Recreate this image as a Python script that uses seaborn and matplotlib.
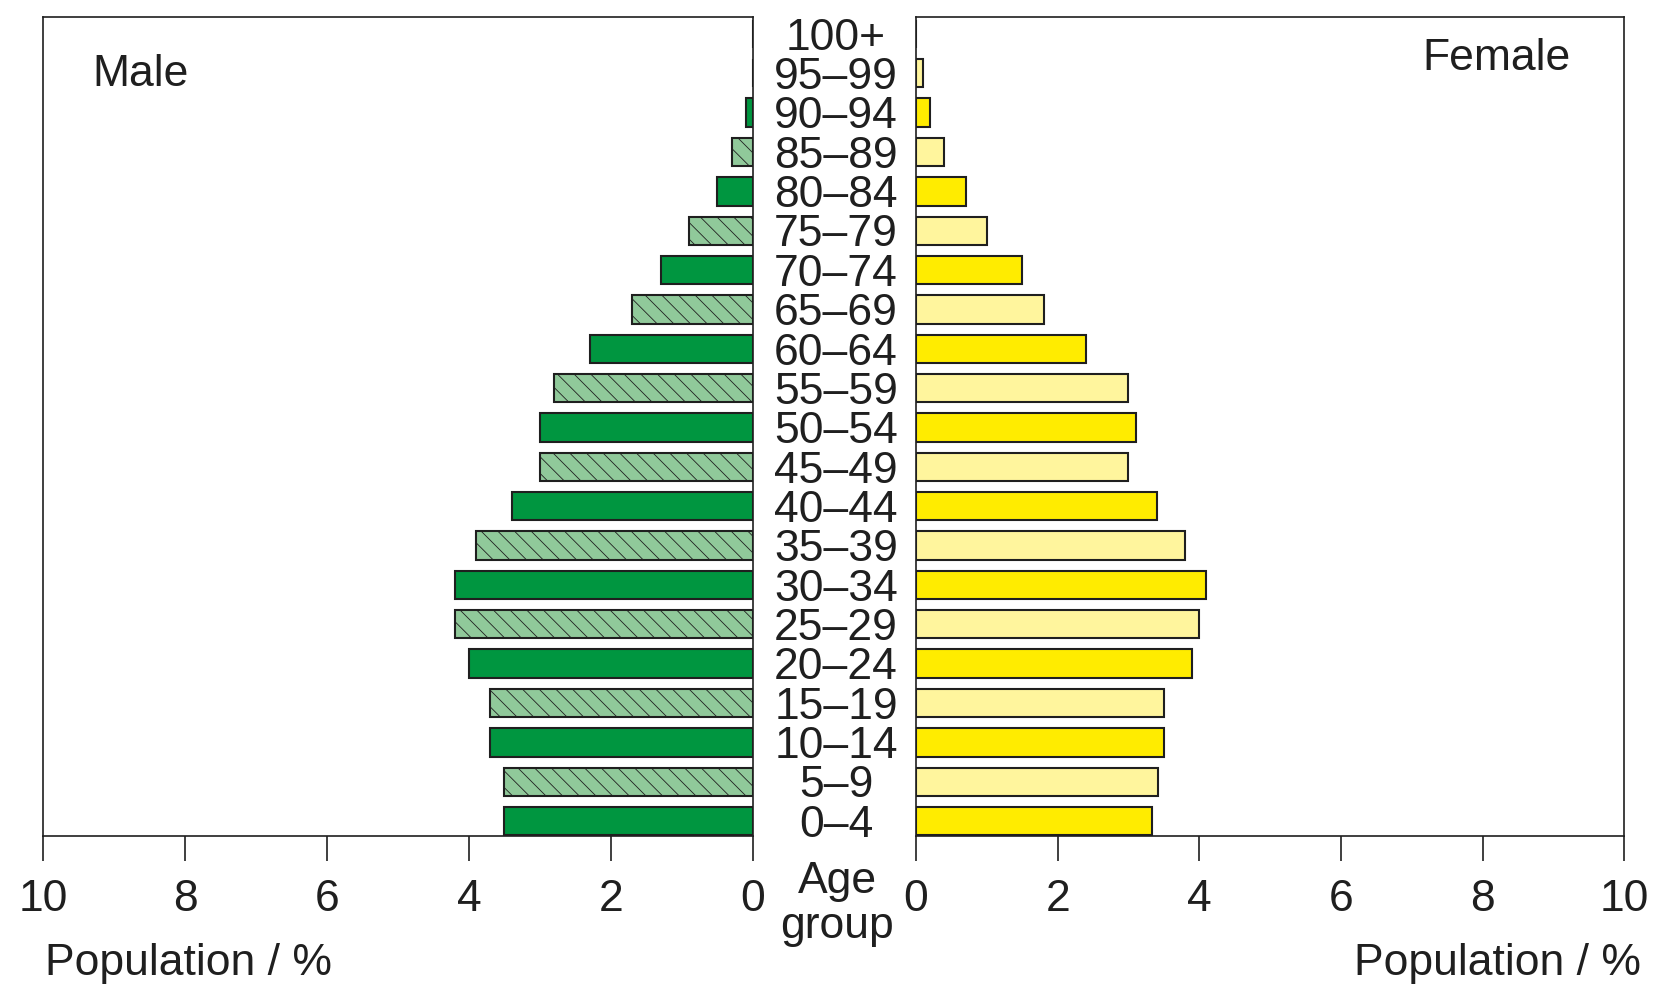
import matplotlib
matplotlib.use("Agg")
import matplotlib.pyplot as plt
import matplotlib.transforms as mtransforms
import pandas as pd
import seaborn as sns

# data
age_groups = ['0–4', '5–9', '10–14', '15–19', '20–24', '25–29', '30–34', '35–39',
              '40–44', '45–49', '50–54', '55–59', '60–64', '65–69', '70–74', '75–79',
              '80–84', '85–89', '90–94', '95–99', '100+']
male_pct = [3.5, 3.5, 3.7, 3.7, 4.0, 4.2, 4.2, 3.9, 3.4, 3.0, 3.0, 2.8, 2.3, 1.7,
            1.3, 0.9, 0.5, 0.3, 0.1, 0.0, 0.0]
female_pct = [3.33, 3.42, 3.5, 3.5, 3.9, 4.0, 4.1, 3.8, 3.4, 3.0, 3.1, 3.0, 2.4, 1.8,
              1.5, 1.0, 0.7, 0.4, 0.2, 0.1, 0.0]
x_ticks = [0, 2, 4, 6, 8, 10]

# colours
MALE_DARK = '#009640'
MALE_LIGHT = '#90c99a'
FEMALE_DARK = '#ffec00'
FEMALE_LIGHT = '#fff59d'
INK = '#1f1f1f'

sns.set_style('white')
plt.rcParams['font.family'] = ['Liberation Sans', 'DejaVu Sans']
plt.rcParams['hatch.linewidth'] = 0.6
FS = 32

df = pd.DataFrame({'age': age_groups, 'male': male_pct, 'female': female_pct})
order = age_groups[::-1]  # 100+ on top
dark_rows = {age: (i % 2 == 0) for i, age in enumerate(age_groups)}


def draw_side(ax, col, dark, light, light_hatch):
    pal = {age: (dark if dark_rows[age] else light) for age in age_groups}
    sns.barplot(data=df, x=col, y='age', hue='age', order=order, hue_order=order,
                palette=pal, orient='h', width=0.72, saturation=1,
                edgecolor=INK, linewidth=1.5, legend=False, ax=ax)
    if light_hatch:
        for p in ax.patches:
            idx = int(round(p.get_y() + p.get_height() / 2))
            if not dark_rows[order[idx]]:
                p.set_hatch(light_hatch)
    ax.set_ylim(len(order) - 1 + 0.38, -0.43)
    ax.set_xlabel('')
    ax.set_ylabel('')
    ax.set_yticks([])
    ax.set_xticks(x_ticks)
    ax.set_xticklabels([str(t) for t in x_ticks])
    ax.tick_params(axis='x', bottom=True, direction='out', length=18, width=1.2,
                   color=INK, labelsize=FS, labelcolor=INK, pad=13)
    for s in ax.spines.values():
        s.set_visible(True)
        s.set_color(INK)
        s.set_linewidth(1.2)


fig = plt.figure(figsize=(16.68, 10.01), dpi=100)
ax_m = fig.add_axes([0.0258, 0.1648, 0.4256, 0.8182])
ax_f = fig.add_axes([0.5492, 0.1648, 0.4245, 0.8182])

draw_side(ax_m, 'male', MALE_DARK, MALE_LIGHT, '\\\\')
ax_m.set_xlim(10, 0)
draw_side(ax_f, 'female', FEMALE_DARK, FEMALE_LIGHT, None)
ax_f.set_xlim(0, 10)

# age group labels in the gap between the two panels
trans = mtransforms.blended_transform_factory(fig.transFigure, ax_m.transData)
for i, age in enumerate(order):
    fig.text(0.5012, i + 0.4, age, transform=trans, ha='center', va='baseline',
             fontsize=FS, color=INK, clip_on=False)

ax_m.text(0.070, 0.930, 'Male', transform=ax_m.transAxes, ha='left', va='center',
          fontsize=FS, color=INK)
ax_f.text(0.924, 0.949, 'Female', transform=ax_f.transAxes, ha='right', va='center',
          fontsize=FS, color=INK)

fig.text(0.5018, 0.1079, 'Age', ha='center', va='baseline', fontsize=FS, color=INK)
fig.text(0.5018, 0.0629, 'group', ha='center', va='baseline', fontsize=FS, color=INK)
fig.text(0.027, 0.026, 'Population / %', ha='left', va='baseline', fontsize=FS, color=INK)
fig.text(0.9838, 0.026, 'Population / %', ha='right', va='baseline', fontsize=FS, color=INK)

fig.savefig('out.png', dpi=100)
